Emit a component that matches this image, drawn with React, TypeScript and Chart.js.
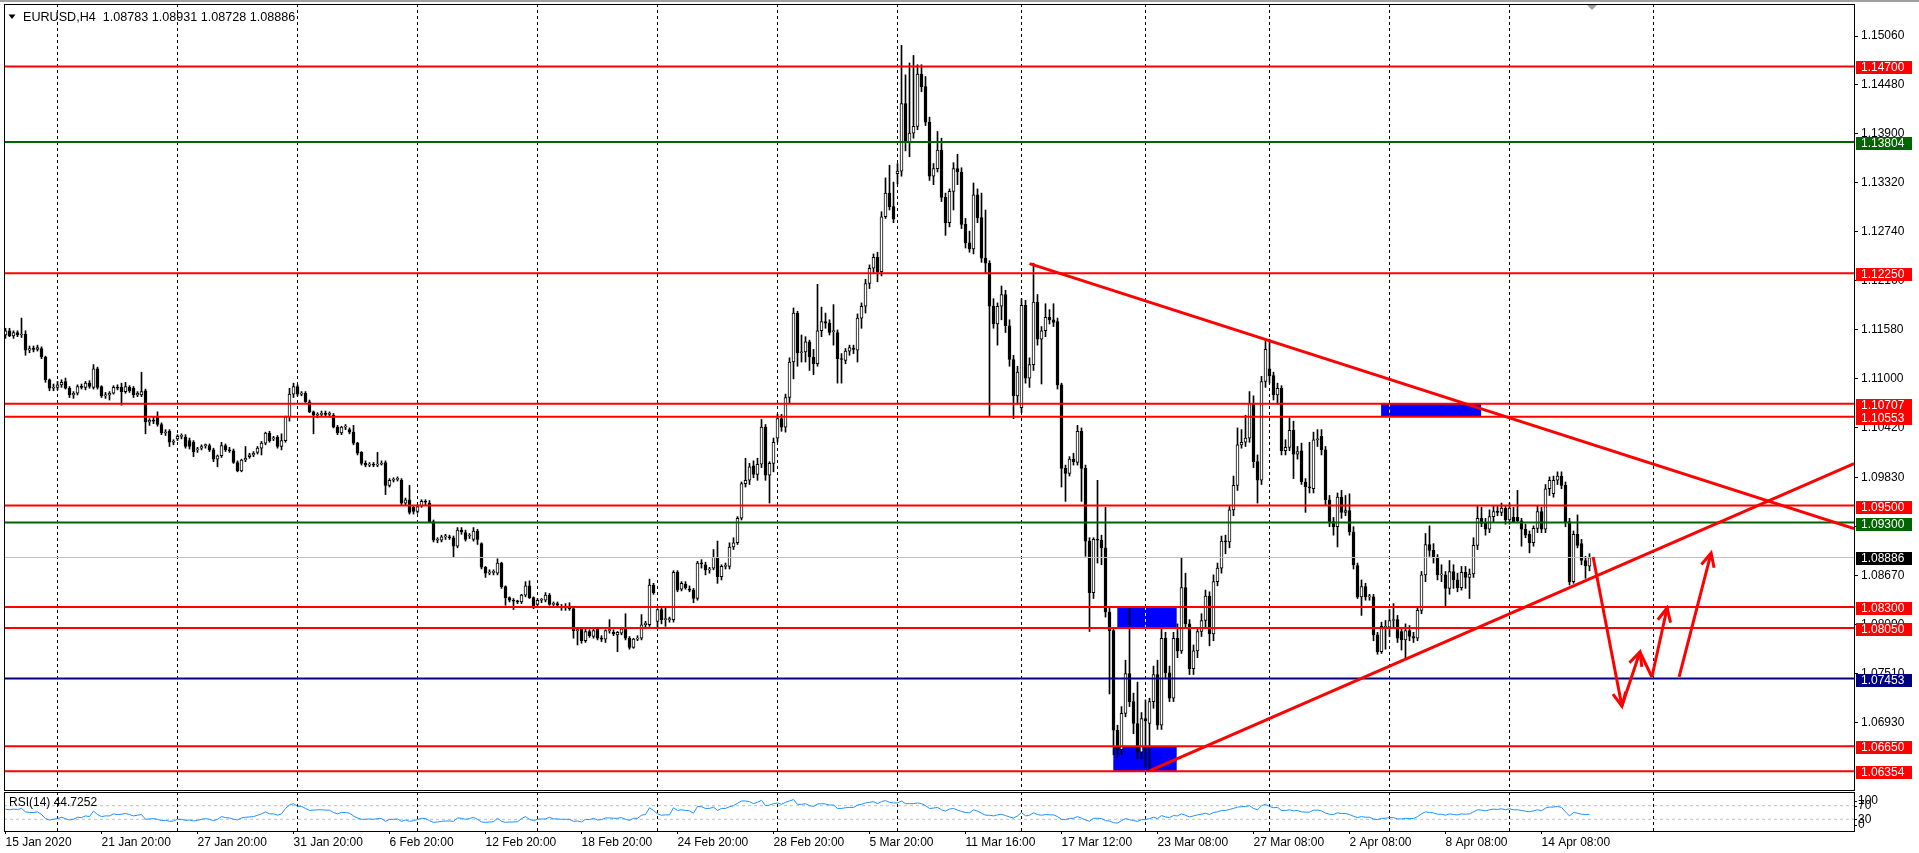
import React, { useEffect, useRef } from "react";
import { Chart, registerables } from "chart.js";

Chart.register(...registerables);

const FONT_FAMILY = '"Liberation Sans", Arial, sans-serif';

// ---- EURUSD H4 candles ----
const OPEN = [
  1.1152,1.1157,1.1151,1.1155,1.1152,1.1153,1.1134,1.1136,1.1135,1.1136,
  1.1126,1.1099,1.1089,1.1090,1.1093,1.1097,1.1089,1.1081,1.1083,1.1091,
  1.1090,1.1095,1.1090,1.1112,1.1091,1.1080,1.1081,1.1083,1.1090,1.1090,
  1.1085,1.1090,1.1089,1.1081,1.1081,1.1086,1.1049,1.1051,1.1055,1.1046,
  1.1036,1.1038,1.1025,1.1029,1.1032,1.1031,1.1027,1.1025,1.1016,1.1018,
  1.1021,1.1021,1.1016,1.1005,1.1009,1.1021,1.1016,1.1015,1.1001,1.0991,
  1.1004,1.1008,1.1010,1.1013,1.1018,1.1024,1.1036,1.1029,1.1031,1.1020,
  1.1027,1.1055,1.1082,1.1091,1.1082,1.1083,1.1073,1.1061,1.1057,1.1058,
  1.1059,1.1058,1.1057,1.1043,1.1036,1.1043,1.1040,1.1037,1.1024,1.1013,
  1.1000,1.0998,1.0999,1.0998,1.0999,1.1001,1.0974,1.0980,1.0981,1.0980,
  1.0953,1.0957,1.0948,1.0943,1.0950,1.0955,1.0953,1.0931,1.0909,1.0909,
  1.0913,1.0913,1.0912,1.0902,1.0921,1.0918,1.0914,1.0910,1.0920,1.0905,
  1.0877,1.0870,1.0871,1.0870,1.0882,1.0854,1.0841,1.0838,1.0837,1.0836,
  1.0844,1.0855,1.0841,1.0833,1.0838,1.0838,1.0844,1.0833,1.0834,1.0830,
  1.0829,1.0831,1.0828,1.0802,1.0804,1.0790,1.0801,1.0795,1.0804,1.0793,
  1.0792,1.0802,1.0800,1.0797,1.0799,1.0804,1.0793,1.0782,1.0792,1.0793,
  1.0809,1.0809,1.0856,1.0813,1.0827,1.0815,1.0815,1.0815,1.0871,1.0851,
  1.0857,1.0851,1.0850,1.0840,1.0882,1.0880,1.0874,1.0876,1.0889,1.0866,
  1.0878,1.0878,1.0901,1.0906,1.0935,1.0976,1.0980,1.0997,1.0987,1.0999,
  1.1043,1.0986,1.1000,1.1030,1.1053,1.1043,1.1078,1.1120,1.1178,1.1131,
  1.1132,1.1144,1.1126,1.1118,1.1157,1.1168,1.1166,1.1156,1.1155,1.1124,
  1.1122,1.1133,1.1136,1.1134,1.1172,1.1186,1.1213,1.1231,1.1244,1.1227,
  1.1292,1.1320,1.1304,1.1343,1.1346,1.1426,1.1381,1.1391,1.1399,1.1461,
  1.1446,1.1404,1.1340,1.1349,1.1371,1.1315,1.1285,1.1322,1.1349,1.1345,
  1.1283,1.1261,1.1254,1.1318,1.1291,1.1243,1.1237,1.1186,1.1165,1.1186,
  1.1200,1.1163,1.1123,1.1080,1.1066,1.1187,1.1101,1.1117,1.1191,1.1147,
  1.1157,1.1173,1.1170,1.1168,1.1093,1.0994,1.0988,1.1005,1.1001,1.1038,
  1.0994,1.0908,1.0847,1.0910,1.0909,1.0900,1.0824,1.0802,1.0684,1.0661,
  1.0704,1.0751,1.0718,1.0692,1.0658,1.0698,1.0692,1.0718,1.0750,1.0690,
  1.0793,1.0752,1.0722,1.0793,1.0778,1.0853,1.0810,1.0757,1.0778,1.0801,
  1.0814,1.0843,1.0798,1.0860,1.0876,1.0908,1.0907,1.0945,1.0974,1.1022,
  1.1025,1.1030,1.1071,1.1002,1.0980,1.1097,1.1112,1.1104,1.1081,1.1089,
  1.1015,1.1019,1.1039,1.1011,1.1015,1.0978,1.0972,1.0970,1.1028,1.1032,
  1.1016,1.0957,1.0931,1.0925,1.0960,1.0942,1.0944,1.0919,1.0879,1.0842,
  1.0854,1.0842,1.0842,1.0797,1.0777,1.0806,1.0806,1.0814,1.0815,1.0801,
  1.0791,1.0802,1.0795,1.0793,1.0826,1.0868,1.0904,1.0897,1.0889,1.0868,
  1.0868,1.0852,1.0872,1.0862,1.0853,1.0871,1.0865,1.0869,1.0903,1.0935,
  1.0929,1.0922,1.0937,1.0943,1.0942,1.0947,1.0933,1.0936,1.0936,1.0932,
  1.0922,1.0916,1.0906,1.0923,1.0943,1.0922,1.0970,1.0964,1.0980,1.0985,
  1.0974,1.0931,1.0860,1.0916,1.0905,1.0885,1.08783,
];

const HIGH = [
  1.1160,1.1160,1.1157,1.1157,1.1172,1.1157,1.1139,1.1139,1.1140,1.1138,
  1.1127,1.1100,1.1094,1.1097,1.1099,1.1101,1.1091,1.1085,1.1093,1.1094,
  1.1097,1.1098,1.1117,1.1114,1.1092,1.1084,1.1085,1.1092,1.1093,1.1095,
  1.1096,1.1092,1.1091,1.1085,1.1108,1.1088,1.1053,1.1055,1.1061,1.1048,
  1.1040,1.1040,1.1028,1.1034,1.1035,1.1034,1.1030,1.1027,1.1019,1.1022,
  1.1023,1.1023,1.1018,1.1010,1.1025,1.1023,1.1019,1.1017,1.1003,1.1005,
  1.1020,1.1012,1.1014,1.1020,1.1026,1.1037,1.1038,1.1032,1.1033,1.1035,
  1.1056,1.1089,1.1095,1.1093,1.1085,1.1085,1.1075,1.1062,1.1060,1.1062,
  1.1062,1.1061,1.1059,1.1045,1.1044,1.1046,1.1042,1.1045,1.1025,1.1014,
  1.1003,1.1001,1.1001,1.1013,1.1003,1.1003,1.0982,1.0983,1.0984,1.0982,
  1.0959,1.0974,1.0950,1.0951,1.0957,1.0957,1.0956,1.0933,1.0912,1.0915,
  1.0916,1.0915,1.0914,1.0924,1.0924,1.0921,1.0917,1.0924,1.0922,1.0906,
  1.0878,1.0874,1.0874,1.0887,1.0883,1.0855,1.0842,1.0840,1.0838,1.0845,
  1.0860,1.0861,1.0842,1.0840,1.0840,1.0847,1.0846,1.0836,1.0836,1.0833,
  1.0834,1.0835,1.0830,1.0806,1.0806,1.0804,1.0803,1.0804,1.0806,1.0796,
  1.0803,1.0815,1.0803,1.0801,1.0806,1.0822,1.0795,1.0793,1.0796,1.0821,
  1.0813,1.0863,1.0858,1.0828,1.0830,1.0830,1.0818,1.0873,1.0873,1.0860,
  1.0860,1.0855,1.0852,1.0884,1.0886,1.0883,1.0877,1.0898,1.0908,1.0880,
  1.0882,1.0906,1.0912,1.0937,1.0978,1.1006,1.1000,1.1003,1.1006,1.1052,
  1.1046,1.1002,1.1030,1.1058,1.1058,1.1082,1.1125,1.1184,1.1180,1.1152,
  1.1150,1.1146,1.1135,1.1212,1.1185,1.1178,1.1170,1.1188,1.1158,1.1130,
  1.1136,1.1140,1.1140,1.1177,1.1190,1.1218,1.1235,1.1248,1.1250,1.1298,
  1.1338,1.1353,1.1333,1.1355,1.1495,1.1460,1.1474,1.1483,1.1472,1.1472,
  1.1458,1.1410,1.1355,1.1393,1.1385,1.1320,1.1325,1.1356,1.1366,1.1350,
  1.1290,1.1275,1.1332,1.1325,1.1320,1.1300,1.1240,1.1195,1.1190,1.1210,
  1.1205,1.1170,1.1128,1.1115,1.1195,1.1193,1.1125,1.1237,1.1200,1.1162,
  1.1189,1.1182,1.1189,1.1172,1.1095,1.0998,1.1008,1.1012,1.1045,1.1042,
  1.0998,1.0912,1.0912,1.0980,1.0915,1.0948,1.0830,1.0806,1.0690,1.0712,
  1.0767,1.0830,1.0728,1.0741,1.0705,1.0720,1.0722,1.0760,1.0767,1.0805,
  1.0800,1.0760,1.0800,1.0810,1.0888,1.0870,1.0815,1.0785,1.0805,1.0822,
  1.0850,1.0848,1.0868,1.0882,1.0914,1.0915,1.0950,1.0985,1.1042,1.1040,
  1.1057,1.1085,1.1080,1.1010,1.1103,1.1146,1.1147,1.1108,1.1095,1.1092,
  1.1028,1.1054,1.1050,1.1020,1.1024,1.0982,1.1025,1.1037,1.1040,1.1040,
  1.1020,1.0962,1.0936,1.0965,1.0968,1.0962,1.0964,1.0925,1.0882,1.0862,
  1.0858,1.0845,1.0845,1.0800,1.0812,1.0814,1.0827,1.0834,1.0820,1.0805,
  1.0810,1.0808,1.0800,1.0830,1.0872,1.0917,1.0926,1.0905,1.0892,1.0880,
  1.0872,1.0885,1.0880,1.0870,1.0878,1.0878,1.0875,1.0912,1.0950,1.0948,
  1.0935,1.0945,1.0950,1.0950,1.0953,1.0950,1.0953,1.0948,1.0968,1.0935,
  1.0928,1.0920,1.0926,1.0950,1.0948,1.0975,1.0984,1.0985,1.0990,1.0990,
  1.0978,1.0935,1.0920,1.0939,1.0910,1.0890,1.08931,
];

const LOW = [
  1.1148,1.1150,1.1148,1.1150,1.1149,1.1128,1.1131,1.1132,1.1133,1.1124,
  1.1096,1.1086,1.1086,1.1087,1.1090,1.1088,1.1078,1.1077,1.1081,1.1088,
  1.1087,1.1089,1.1088,1.1088,1.1078,1.1077,1.1075,1.1082,1.1087,1.1069,
  1.1083,1.1084,1.1078,1.1079,1.1079,1.1035,1.1045,1.1047,1.1044,1.1034,
  1.1033,1.1020,1.1022,1.1027,1.1029,1.1018,1.1017,1.1008,1.1013,1.1016,
  1.1018,1.1014,1.1002,1.0996,1.1007,1.1014,1.1013,1.1000,1.0990,1.0990,
  1.1002,1.1006,1.1008,1.1011,1.1010,1.1022,1.1025,1.1027,1.1018,1.1016,
  1.1025,1.1050,1.1078,1.1080,1.1080,1.1072,1.1060,1.1035,1.1054,1.1056,
  1.1055,1.1055,1.1042,1.1034,1.1034,1.1040,1.1035,1.1022,1.1010,1.0998,
  1.0996,1.0996,1.0996,1.0996,1.0998,1.0963,1.0972,1.0978,1.0979,1.0950,
  1.0951,1.0940,1.0940,1.0941,1.0948,1.0951,1.0930,1.0907,1.0906,1.0907,
  1.0910,1.0910,1.0889,1.0900,1.0916,1.0908,1.0911,1.0908,1.0904,1.0875,
  1.0865,1.0868,1.0868,1.0868,1.0852,1.0832,1.0836,1.0827,1.0834,1.0834,
  1.0842,1.0840,1.0828,1.0831,1.0835,1.0836,1.0832,1.0831,1.0830,1.0826,
  1.0826,1.0826,1.0793,1.0785,1.0787,1.0788,1.0794,1.0793,1.0791,1.0789,
  1.0788,1.0799,1.0796,1.0777,1.0797,1.0791,1.0780,1.0781,1.0790,1.0791,
  1.0806,1.0807,1.0845,1.0805,1.0810,1.0807,1.0812,1.0812,1.0848,1.0849,
  1.0851,1.0848,1.0835,1.0838,1.0876,1.0868,1.0870,1.0874,1.0858,1.0862,
  1.0875,1.0875,1.0898,1.0904,1.0933,1.0972,1.0975,1.0983,1.0980,1.0995,
  1.0980,1.0953,1.0990,1.1025,1.1038,1.1037,1.1071,1.1100,1.1115,1.1120,
  1.1120,1.1110,1.1105,1.1115,1.1150,1.1160,1.1152,1.1140,1.1095,1.1095,
  1.1118,1.1128,1.1130,1.1120,1.1160,1.1178,1.1207,1.1226,1.1215,1.1222,
  1.1290,1.1300,1.1285,1.1331,1.1340,1.1370,1.1363,1.1385,1.1395,1.1440,
  1.1400,1.1335,1.1330,1.1345,1.1310,1.1270,1.1280,1.1300,1.1330,1.1278,
  1.1255,1.1250,1.1248,1.1285,1.1238,1.1225,1.1056,1.1160,1.1140,1.1170,
  1.1155,1.1115,1.1053,1.1070,1.1060,1.1095,1.1090,1.1110,1.1140,1.1094,
  1.1150,1.1165,1.1162,1.1088,1.0972,1.0955,1.0985,1.0998,1.0998,1.0955,
  1.0890,1.0801,1.0840,1.0882,1.0880,1.0818,1.0727,1.0655,1.0652,1.0655,
  1.0700,1.0712,1.0680,1.0650,1.0650,1.0640,1.0636,1.0710,1.0685,1.0685,
  1.0745,1.0718,1.0718,1.0770,1.0775,1.0805,1.0750,1.0750,1.0770,1.0795,
  1.0805,1.0784,1.0790,1.0855,1.0870,1.0893,1.0900,1.0938,1.0968,1.1018,
  1.1020,1.1025,1.0995,1.0953,1.0975,1.1090,1.1095,1.1075,1.1070,1.1010,
  1.1010,1.1015,1.0982,1.1005,1.0975,1.0942,1.0965,1.0965,1.1020,1.1010,
  1.0950,1.0925,1.0915,1.0901,1.0935,1.0938,1.0915,1.0875,1.0840,1.0820,
  1.0838,1.0838,1.0790,1.0774,1.0775,1.0780,1.0795,1.0805,1.0788,1.0779,
  1.0769,1.0790,1.0788,1.0790,1.0822,1.0860,1.0890,1.0882,1.0862,1.0860,
  1.0830,1.0845,1.0852,1.0848,1.0850,1.0852,1.0840,1.0865,1.0898,1.0925,
  1.0915,1.0918,1.0930,1.0938,1.0938,1.0928,1.0928,1.0930,1.0930,1.0902,
  1.0912,1.0894,1.0902,1.0918,1.0918,1.0918,1.0962,1.0960,1.0975,1.0970,
  1.0925,1.0856,1.0858,1.0900,1.0880,1.0864,1.08728,
];

const CLOSE = [
  1.1157,1.1151,1.1155,1.1152,1.1153,1.1134,1.1136,1.1135,1.1137,1.1126,
  1.1099,1.1089,1.1090,1.1093,1.1096,1.1089,1.1081,1.1083,1.1091,1.1090,
  1.1095,1.1091,1.1112,1.1090,1.1080,1.1081,1.1083,1.1090,1.1089,1.1085,
  1.1091,1.1086,1.1081,1.1083,1.1085,1.1049,1.1051,1.1050,1.1046,1.1036,
  1.1037,1.1025,1.1025,1.1032,1.1032,1.1020,1.1020,1.1014,1.1016,1.1020,
  1.1021,1.1016,1.1005,1.1009,1.1021,1.1016,1.1015,1.1001,1.0991,1.1004,
  1.1006,1.1010,1.1012,1.1018,1.1024,1.1036,1.1027,1.1029,1.1020,1.1027,
  1.1055,1.1082,1.1091,1.1082,1.1083,1.1073,1.1061,1.1057,1.1058,1.1059,
  1.1058,1.1058,1.1043,1.1036,1.1043,1.1043,1.1037,1.1024,1.1012,1.1000,
  1.0998,1.0999,1.0998,1.0999,1.1000,1.0974,1.0980,1.0981,1.0982,1.0953,
  1.0957,1.0942,1.0943,1.0949,1.0955,1.0954,1.0931,1.0909,1.0910,1.0913,
  1.0913,1.0912,1.0902,1.0921,1.0919,1.0910,1.0915,1.0920,1.0910,1.0877,
  1.0870,1.0871,1.0871,1.0882,1.0854,1.0841,1.0838,1.0837,1.0836,1.0844,
  1.0855,1.0841,1.0830,1.0838,1.0838,1.0844,1.0833,1.0834,1.0832,1.0829,
  1.0831,1.0828,1.0802,1.0803,1.0790,1.0801,1.0796,1.0802,1.0793,1.0792,
  1.0802,1.0803,1.0798,1.0800,1.0804,1.0793,1.0782,1.0792,1.0793,1.0809,
  1.0811,1.0856,1.0847,1.0827,1.0815,1.0815,1.0815,1.0871,1.0850,1.0858,
  1.0853,1.0850,1.0840,1.0882,1.0881,1.0874,1.0875,1.0889,1.0866,1.0878,
  1.0879,1.0901,1.0906,1.0935,1.0976,1.0980,1.0996,1.0987,1.0999,1.1043,
  1.0986,1.1000,1.1025,1.1053,1.1043,1.1078,1.1120,1.1178,1.1131,1.1132,
  1.1144,1.1126,1.1118,1.1157,1.1168,1.1166,1.1155,1.1156,1.1124,1.1123,
  1.1133,1.1137,1.1135,1.1172,1.1186,1.1213,1.1231,1.1244,1.1227,1.1292,
  1.1320,1.1304,1.1289,1.1346,1.1426,1.1381,1.1391,1.1399,1.1461,1.1446,
  1.1404,1.1340,1.1349,1.1371,1.1315,1.1285,1.1322,1.1349,1.1345,1.1283,
  1.1261,1.1254,1.1318,1.1291,1.1243,1.1237,1.1186,1.1165,1.1186,1.1200,
  1.1163,1.1123,1.1080,1.1108,1.1187,1.1101,1.1117,1.1191,1.1147,1.1157,
  1.1173,1.1170,1.1167,1.1093,1.0994,1.0988,1.1005,1.1002,1.1038,1.0994,
  1.0908,1.0847,1.0910,1.0909,1.0900,1.0824,1.0802,1.0684,1.0661,1.0704,
  1.0751,1.0718,1.0692,1.0658,1.0698,1.0695,1.0718,1.0750,1.0690,1.0793,
  1.0752,1.0722,1.0793,1.0778,1.0853,1.0810,1.0757,1.0778,1.0801,1.0814,
  1.0843,1.0798,1.0860,1.0876,1.0908,1.0907,1.0945,1.0974,1.1022,1.1025,
  1.1030,1.1071,1.1002,1.0980,1.1097,1.1135,1.1104,1.1081,1.1089,1.1015,
  1.1019,1.1039,1.1011,1.1014,1.0978,1.0972,1.0971,1.1028,1.1029,1.1016,
  1.0957,1.0930,1.0925,1.0960,1.0942,1.0944,1.0919,1.0880,1.0842,1.0854,
  1.0842,1.0842,1.0797,1.0777,1.0807,1.0806,1.0814,1.0815,1.0793,1.0791,
  1.0802,1.0795,1.0793,1.0826,1.0868,1.0904,1.0897,1.0889,1.0868,1.0868,
  1.0852,1.0872,1.0862,1.0853,1.0871,1.0865,1.0869,1.0903,1.0935,1.0929,
  1.0922,1.0937,1.0943,1.0942,1.0947,1.0933,1.0947,1.0930,1.0932,1.0922,
  1.0915,1.0906,1.0923,1.0943,1.0922,1.0970,1.0980,1.0980,1.0985,1.0974,
  1.0931,1.0860,1.0916,1.0903,1.0885,1.0879,1.08886,
];

const RSI = [
  60,58,60,59,62,52,50,50,52,44,
  32,28,30,32,36,32,28,30,36,35,
  40,38,54,44,38,40,40,46,44,45,
  47,44,40,42,44,30,31,32,30,26,
  27,24,25,30,30,27,28,25,27,30,
  32,30,26,30,38,35,34,30,28,34,
  36,37,38,42,46,52,46,46,42,46,
  62,72,76,68,68,62,56,57,58,58,
  57,57,50,46,50,50,48,40,34,30,
  30,31,30,32,32,24,30,30,31,24,
  28,24,26,29,33,32,26,21,22,24,
  25,25,24,34,33,30,32,36,30,22,
  21,22,23,33,24,21,22,22,23,32,
  38,30,26,30,31,31,36,31,31,30,
  30,30,24,25,22,30,29,33,28,29,
  34,34,33,33,35,30,27,33,33,42,
  44,64,56,46,42,43,43,64,56,58,
  56,55,48,68,67,62,62,66,56,62,
  62,67,70,77,84,84,82,76,80,86,
  70,72,76,78,74,80,84,88,74,74,
  76,70,68,75,76,75,72,72,62,62,
  64,65,65,72,74,78,80,82,76,82,
  85,80,78,78,84,76,76,76,78,76,
  70,62,63,65,58,54,60,62,57,53,
  50,49,58,54,48,42,42,40,43,45,
  41,37,34,40,50,40,42,49,44,42,
  44,43,43,38,30,29,33,33,38,33,
  28,24,33,33,32,26,25,20,19,26,
  32,29,26,24,29,29,32,36,32,41,
  37,35,41,40,46,42,37,40,43,45,
  48,44,50,52,56,56,59,62,66,67,
  68,70,62,58,70,74,68,64,65,56,
  56,58,55,56,52,51,51,57,57,55,
  48,45,44,49,47,47,44,39,35,38,
  36,36,31,29,33,33,35,35,31,31,
  33,32,32,38,46,52,50,49,45,45,
  42,46,44,43,46,45,46,52,58,57,
  55,58,60,59,61,58,61,58,58,56,
  54,52,55,58,55,63,66,66,68,65,
  52,40,50,48,45,44,44.7252,
];

// ---- axes ----
const PRICE_TICKS = [1.1506, 1.1448, 1.139, 1.1332, 1.1274, 1.1216, 1.1158, 1.11, 1.1042, 1.0983, 1.0925, 1.0867, 1.0809, 1.0751, 1.0693];
const GRID_IDX = [13, 43, 73, 103, 133, 163, 193, 223, 254, 285, 316, 346, 376, 412];
const LABEL_IDX = [0, 24, 48, 72, 96, 120, 144, 168, 192, 216, 240, 264, 288, 312, 336, 360, 384];
const LABEL_TEXT = [
  "15 Jan 2020", "21 Jan 20:00", "27 Jan 20:00", "31 Jan 20:00", "6 Feb 20:00", "12 Feb 20:00",
  "18 Feb 20:00", "24 Feb 20:00", "28 Feb 20:00", "5 Mar 20:00", "11 Mar 16:00", "17 Mar 12:00",
  "23 Mar 08:00", "27 Mar 08:00", "2 Apr 08:00", "8 Apr 08:00", "14 Apr 08:00",
];
const X_MIN = -0.375;
const X_MAX = 462.125;
const Y_MIN = 1.06133;
const Y_MAX = 1.15439;
const RSI_MIN = -4.4;
const RSI_MAX = 110.3;

// ---- horizontal levels ----
const LEVEL_PRICES = [1.147, 1.13804, 1.1225, 1.10707, 1.10553, 1.095, 1.093, 1.08886, 1.083, 1.0805, 1.07453, 1.0665, 1.06354];
const LEVEL_LINE_COLORS = ["#FF0000", "#006400", "#FF0000", "#FF0000", "#FF0000", "#FF0000", "#006400", "#C0C0C0", "#FF0000", "#FF0000", "#000080", "#FF0000", "#FF0000"];
const LEVEL_TAG_COLORS = ["#FF0000", "#006400", "#FF0000", "#FF0000", "#FF0000", "#FF0000", "#006400", "#000000", "#FF0000", "#FF0000", "#000080", "#FF0000", "#FF0000"];
const LEVEL_WIDTHS = [2, 2, 2, 2, 2, 2, 2, 1, 2, 2, 2, 2, 2];

// ---- trend lines (bar index, price) ----
const TREND_X0 = [256, 286.1];
const TREND_Y0 = [1.12365, 1.06361];
const TREND_X1 = [462.125, 462.125];
const TREND_Y1 = [1.09227, 1.09998];

// ---- arrows ----
const ARROW_X0 = [396.9, 404.1, 408.6, 411.6, 418.4];
const ARROW_Y0 = [1.08891, 1.07127, 1.07767, 1.07471, 1.07471];
const ARROW_X1 = [404.1, 408.6, 411.6, 415.4, 426.4];
const ARROW_Y1 = [1.07127, 1.07767, 1.07471, 1.08288, 1.08939];
const ARROW_HEAD = [true, true, false, true, true];

// ---- blue rectangles ----
const RECT_X0 = [343.9, 277.95, 276.95];
const RECT_X1 = [368.9, 292.8, 292.8];
const RECT_LO = [1.10553, 1.0805, 1.06354];
const RECT_HI = [1.10707, 1.083, 1.0665];

const RSI_LEVELS = [70, 30];
const RSI_AXIS_VALUES = [100, 70, 30, 0];
const RSI_AXIS_SHIFT = [5, 0, 0, -5];
const HEADER = "EURUSD,H4  1.08783 1.08931 1.08728 1.08886";
const RSI_TITLE = "RSI(14) 44.7252";
const SHIFT_MARK_IDX = 396.5;

function drawGrid(ctx: CanvasRenderingContext2D, chart: any) {
  const a = chart.chartArea;
  const x = chart.scales.x;
  ctx.save();
  ctx.strokeStyle = "#000";
  ctx.lineWidth = 1;
  ctx.setLineDash([3, 3]);
  GRID_IDX.forEach((g) => {
    const px = Math.floor(x.getPixelForValue(g)) + 0.5;
    ctx.beginPath();
    ctx.moveTo(px, a.top);
    ctx.lineTo(px, a.bottom);
    ctx.stroke();
  });
  ctx.restore();
}

function drawFrame(ctx: CanvasRenderingContext2D, a: any) {
  ctx.save();
  ctx.strokeStyle = "#000";
  ctx.lineWidth = 1;
  ctx.setLineDash([]);
  ctx.strokeRect(Math.floor(a.left) + 0.5, Math.floor(a.top) + 0.5, Math.round(a.right - a.left), Math.round(a.bottom - a.top));
  ctx.restore();
}

const mainPlugin = {
  id: "mainDecor",
  beforeDatasetsDraw(chart: any) {
    const { ctx, scales } = chart;
    const x = scales.x;
    const y = scales.y;
    drawGrid(ctx, chart);
    ctx.save();
    RECT_X0.forEach((x0, k) => {
      const l = x.getPixelForValue(x0);
      const r = x.getPixelForValue(RECT_X1[k]);
      const t = y.getPixelForValue(RECT_HI[k]);
      const b = y.getPixelForValue(RECT_LO[k]);
      ctx.fillStyle = "#0000FF";
      ctx.fillRect(l, t, r - l, b - t);
      ctx.strokeStyle = "#FFFF00";
      ctx.lineWidth = 1;
      ctx.setLineDash([3, 3]);
      GRID_IDX.forEach((g) => {
        const px = Math.floor(x.getPixelForValue(g)) + 0.5;
        if (px > l && px < r) {
          ctx.beginPath();
          ctx.moveTo(px, t);
          ctx.lineTo(px, b);
          ctx.stroke();
        }
      });
      ctx.setLineDash([]);
    });
    ctx.restore();
  },
  afterDatasetsDraw(chart: any) {
    const { ctx, scales } = chart;
    const x = scales.x;
    const y = scales.y;
    ctx.save();
    ctx.strokeStyle = "#FF0000";
    ctx.lineWidth = 3;
    ctx.lineCap = "butt";
    ARROW_X0.forEach((x0, k) => {
      if (!ARROW_HEAD[k]) return;
      const sx = x.getPixelForValue(x0);
      const sy = y.getPixelForValue(ARROW_Y0[k]);
      const ex = x.getPixelForValue(ARROW_X1[k]);
      const ey = y.getPixelForValue(ARROW_Y1[k]);
      const ang = Math.atan2(ey - sy, ex - sx);
      const len = 15;
      const spread = 0.45;
      ctx.beginPath();
      ctx.moveTo(ex - len * Math.cos(ang - spread), ey - len * Math.sin(ang - spread));
      ctx.lineTo(ex, ey);
      ctx.lineTo(ex - len * Math.cos(ang + spread), ey - len * Math.sin(ang + spread));
      ctx.stroke();
    });
    ctx.restore();
  },
  afterDraw(chart: any) {
    const { ctx, chartArea: a, scales } = chart;
    const x = scales.x;
    const y = scales.y;
    drawFrame(ctx, a);
    ctx.save();
    // level tags on the price scale
    ctx.font = `12px ${FONT_FAMILY}`;
    ctx.textBaseline = "middle";
    ctx.textAlign = "left";
    LEVEL_PRICES.forEach((p, k) => {
      const py = y.getPixelForValue(p);
      ctx.fillStyle = LEVEL_TAG_COLORS[k];
      ctx.fillRect(a.right + 2, Math.round(py) - 5, 56, 13);
      ctx.fillStyle = "#FFFFFF";
      ctx.fillText(p.toFixed(5), a.right + 7, Math.round(py) + 1.5);
    });
    // header
    ctx.fillStyle = "#000";
    ctx.beginPath();
    ctx.moveTo(a.left + 4.5, a.top + 10.5);
    ctx.lineTo(a.left + 11.5, a.top + 10.5);
    ctx.lineTo(a.left + 8, a.top + 15);
    ctx.closePath();
    ctx.fill();
    ctx.font = `12.6px ${FONT_FAMILY}`;
    ctx.textBaseline = "alphabetic";
    ctx.fillText(HEADER, a.left + 19, a.top + 16.5);
    // chart shift marker
    const sx = Math.round(x.getPixelForValue(SHIFT_MARK_IDX));
    ctx.fillStyle = "#A0A0A0";
    ctx.beginPath();
    ctx.moveTo(sx - 5, a.top + 1);
    ctx.lineTo(sx + 5, a.top + 1);
    ctx.lineTo(sx, a.top + 6);
    ctx.closePath();
    ctx.fill();
    ctx.restore();
  },
};

const rsiPlugin = {
  id: "rsiDecor",
  beforeDatasetsDraw(chart: any) {
    drawGrid(chart.ctx, chart);
  },
  afterDraw(chart: any) {
    const { ctx, chartArea: a, scales } = chart;
    const y = scales.y;
    drawFrame(ctx, a);
    ctx.save();
    ctx.font = `12px ${FONT_FAMILY}`;
    ctx.fillStyle = "#000";
    ctx.textBaseline = "middle";
    ctx.textAlign = "left";
    ctx.fillText(RSI_TITLE, a.left + 5, a.top + 11);
    RSI_AXIS_VALUES.forEach((v, k) => {
      const py = y.getPixelForValue(v) + RSI_AXIS_SHIFT[k];
      ctx.fillText(String(v), a.right + 4, py);
      ctx.fillRect(a.right, Math.round(py), 3, 1);
    });
    ctx.restore();
  },
};

export default function App() {
  const mainRef = useRef<HTMLCanvasElement>(null);
  const rsiRef = useRef<HTMLCanvasElement>(null);

  useEffect(() => {
    const idx = OPEN.map((_, i) => i);
    const wickData = idx.map((i) => ({
      x: i,
      y: [Math.min(LOW[i], OPEN[i], CLOSE[i]), Math.max(HIGH[i], OPEN[i], CLOSE[i])],
    }));
    const bodyData = idx.map((i) => ({ x: i, y: [OPEN[i], CLOSE[i]] }));
    const bodyColors = idx.map((i) => (CLOSE[i] >= OPEN[i] ? "#FFFFFF" : "#000000"));

    const levelSets = LEVEL_PRICES.map((p, k) => ({
      type: "line" as const,
      data: [{ x: X_MIN, y: p }, { x: X_MAX, y: p }],
      borderColor: LEVEL_LINE_COLORS[k],
      borderWidth: LEVEL_WIDTHS[k],
      pointRadius: 0,
      fill: false,
      order: 4,
    }));
    const trendSets = TREND_X0.map((x0, k) => ({
      type: "line" as const,
      data: [{ x: x0, y: TREND_Y0[k] }, { x: TREND_X1[k], y: TREND_Y1[k] }],
      borderColor: "#FF0000",
      borderWidth: 3,
      pointRadius: 0,
      fill: false,
      order: 2,
    }));
    const arrowSets = ARROW_X0.map((x0, k) => ({
      type: "line" as const,
      data: [{ x: x0, y: ARROW_Y0[k] }, { x: ARROW_X1[k], y: ARROW_Y1[k] }],
      borderColor: "#FF0000",
      borderWidth: 3,
      pointRadius: 0,
      fill: false,
      order: 1,
    }));

    const xScale = (extra: any) => ({
      type: "linear",
      min: X_MIN,
      max: X_MAX,
      offset: false,
      bounds: "data",
      ...extra,
    });

    const main = new Chart(mainRef.current as HTMLCanvasElement, {
      type: "bar",
      data: {
        datasets: [
          {
            type: "bar",
            data: wickData as any,
            backgroundColor: "#000000",
            borderWidth: 0,
            barThickness: 1,
            grouped: false,
            order: 6,
          },
          {
            type: "bar",
            data: bodyData as any,
            backgroundColor: bodyColors,
            borderColor: "#000000",
            borderWidth: 1,
            borderSkipped: false,
            barThickness: 3,
            minBarLength: 1,
            grouped: false,
            order: 5,
          },
          ...levelSets,
          ...trendSets,
          ...arrowSets,
        ] as any,
      },
      options: {
        responsive: false,
        animation: false,
        devicePixelRatio: 1,
        events: [],
        layout: { padding: { left: 4, top: 4, right: 0, bottom: 1 } },
        plugins: { legend: { display: false }, tooltip: { enabled: false } },
        scales: {
          x: xScale({ display: false, grid: { offset: false } }),
          y: {
            type: "linear",
            position: "right",
            min: Y_MIN,
            max: Y_MAX,
            bounds: "data",
            afterBuildTicks: (s: any) => {
              s.ticks = PRICE_TICKS.map((v) => ({ value: v }));
            },
            afterFit: (s: any) => {
              s.width = 65;
              s.paddingTop = 0;
              s.paddingBottom = 0;
            },
            ticks: {
              callback: (v: any) => Number(v).toFixed(5),
              font: { family: FONT_FAMILY, size: 12 },
              color: "#000",
              padding: 3,
              autoSkip: false,
            },
            grid: { drawOnChartArea: false, drawTicks: true, tickLength: 4, color: "#000" },
            border: { display: false },
          },
        } as any,
      },
      plugins: [mainPlugin],
    });

    const rsi = new Chart(rsiRef.current as HTMLCanvasElement, {
      type: "line",
      data: {
        datasets: [
          {
            data: idx.map((i) => ({ x: i, y: RSI[i] })),
            borderColor: "#1E90FF",
            borderWidth: 1,
            pointRadius: 0,
            fill: false,
            order: 1,
          },
          ...RSI_LEVELS.map((v) => ({
            data: [{ x: X_MIN, y: v }, { x: X_MAX, y: v }],
            borderColor: "#C0C0C0",
            borderWidth: 1,
            borderDash: [3, 3],
            pointRadius: 0,
            fill: false,
            order: 2,
          })),
        ] as any,
      },
      options: {
        responsive: false,
        animation: false,
        devicePixelRatio: 1,
        events: [],
        layout: { padding: { left: 4, top: 1, right: 0, bottom: 0 } },
        plugins: { legend: { display: false }, tooltip: { enabled: false } },
        scales: {
          x: xScale({
            position: "bottom",
            afterBuildTicks: (s: any) => {
              s.ticks = LABEL_IDX.map((v) => ({ value: v }));
            },
            afterFit: (s: any) => {
              s.height = 22;
              s.paddingLeft = 0;
              s.paddingRight = 0;
            },
            ticks: {
              callback: (_v: any, i: number) => LABEL_TEXT[i],
              align: "start",
              autoSkip: false,
              maxRotation: 0,
              minRotation: 0,
              font: { family: FONT_FAMILY, size: 12 },
              color: "#000",
              padding: 1,
            },
            grid: { drawOnChartArea: false, drawTicks: true, tickLength: 3, color: "#000" },
            border: { display: false },
          }),
          y: {
            type: "linear",
            position: "right",
            min: RSI_MIN,
            max: RSI_MAX,
            bounds: "data",
            afterFit: (s: any) => {
              s.width = 65;
              s.paddingTop = 0;
              s.paddingBottom = 0;
            },
            ticks: { display: false },
            grid: { display: false },
            border: { display: false },
          },
        } as any,
      },
      plugins: [rsiPlugin],
    });

    return () => {
      main.destroy();
      rsi.destroy();
    };
  }, []);

  return (
    <div
      style={{
        position: "fixed",
        left: 0,
        top: 0,
        width: 1919,
        height: 853,
        background: "#FFFFFF",
        overflow: "hidden",
      }}
    >
      <div style={{ position: "absolute", left: 0, top: 0, width: 1919, height: 2, background: "#A0A0A0" }} />
      <canvas ref={mainRef} width={1919} height={791} style={{ position: "absolute", left: 0, top: 0 }} />
      <canvas ref={rsiRef} width={1919} height={62} style={{ position: "absolute", left: 0, top: 791 }} />
    </div>
  );
}
